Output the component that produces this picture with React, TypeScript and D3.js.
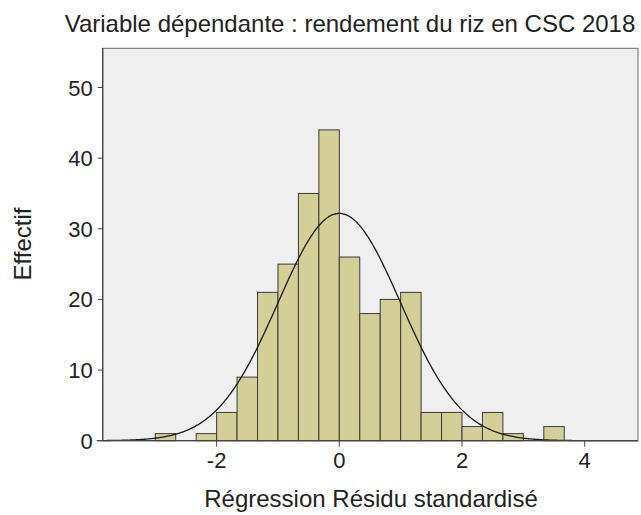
import { useEffect, useRef } from 'react';
import * as d3 from 'd3';

// histogram bins (lower edge, in standardized residual units) and counts
const binStarts = [-3, -2.6667, -2.3333, -2, -1.6667, -1.3333, -1, -0.6667, -0.3333, 0, 0.3333, 0.6667, 1, 1.3333, 1.6667, 2, 2.3333, 2.6667, 3, 3.3333];
const counts = [1, 0, 1, 4, 9, 21, 25, 35, 44, 26, 18, 20, 21, 4, 4, 2, 4, 1, 0, 2];
const binWidth = 1 / 3;

// fitted normal curve parameters
const curveMean = 0;
const curveSd = 1.0;

const xTicks = [-2, 0, 2, 4];
const yTicks = [0, 10, 20, 30, 40, 50];

const title = 'Variable dépendante : rendement du riz en CSC 2018';
const xLabel = 'Régression Résidu standardisé';
const yLabel = 'Effectif';

const W = 641;
const H = 515;
const font = '"Liberation Sans", Arial, sans-serif';

export default function App() {
  const svgRef = useRef<SVGSVGElement>(null);

  useEffect(() => {
    if (!svgRef.current) return;
    const svg = d3.select(svgRef.current);
    svg.selectAll('*').remove();

    const left = 102.7, right = 638, top = 48.3, bottom = 440.7;

    const x = d3.scaleLinear().domain([-3.857, 4.869]).range([left, right]);
    const y = d3.scaleLinear().domain([0, 55.55]).range([bottom, top]);

    // plot background
    svg.append('rect')
      .attr('x', left)
      .attr('y', top)
      .attr('width', right - left)
      .attr('height', bottom - top)
      .attr('fill', '#efefef')
      .attr('stroke', '#6b6b6b')
      .attr('stroke-width', 1);

    // bars
    svg.append('g')
      .selectAll('rect')
      .data(binStarts.map((s, i) => ({ s, c: counts[i] })).filter(d => d.c > 0))
      .join('rect')
      .attr('x', d => x(d.s))
      .attr('y', d => y(d.c))
      .attr('width', d => x(d.s + binWidth) - x(d.s))
      .attr('height', d => y(0) - y(d.c))
      .attr('fill', '#d4cf97')
      .attr('stroke', '#3a3a3a')
      .attr('stroke-width', 1);

    // normal curve
    const total = d3.sum(counts);
    const dens = (v: number) =>
      total * binWidth * Math.exp(-0.5 * ((v - curveMean) / curveSd) ** 2) / (curveSd * Math.sqrt(2 * Math.PI));
    const xs = d3.range(-3.857, 4.869, 0.02);
    const line = d3.line<number>().x(v => x(v)).y(v => y(dens(v))).curve(d3.curveBasis);
    svg.append('path')
      .attr('d', line(xs))
      .attr('fill', 'none')
      .attr('stroke', '#1a1a1a')
      .attr('stroke-width', 1.3);

    // axes lines
    svg.append('line')
      .attr('x1', left).attr('x2', left).attr('y1', top).attr('y2', bottom)
      .attr('stroke', '#444').attr('stroke-width', 1.3);
    svg.append('line')
      .attr('x1', left - 6).attr('x2', right).attr('y1', bottom).attr('y2', bottom)
      .attr('stroke', '#444').attr('stroke-width', 1.3);

    // y ticks
    const yt = svg.append('g');
    yTicks.forEach(t => {
      yt.append('line')
        .attr('x1', left - 5).attr('x2', left)
        .attr('y1', y(t)).attr('y2', y(t))
        .attr('stroke', '#444');
      yt.append('text')
        .attr('x', left - 10)
        .attr('y', y(t) + 8)
        .attr('text-anchor', 'end')
        .attr('font-family', font)
        .attr('font-size', 22)
        .attr('fill', '#222')
        .text(t);
    });

    // x ticks
    const xt = svg.append('g');
    xTicks.forEach(t => {
      xt.append('line')
        .attr('x1', x(t)).attr('x2', x(t))
        .attr('y1', bottom).attr('y2', bottom + 6)
        .attr('stroke', '#444');
      xt.append('text')
        .attr('x', x(t))
        .attr('y', 468)
        .attr('text-anchor', 'middle')
        .attr('font-family', font)
        .attr('font-size', 22)
        .attr('fill', '#222')
        .text(t);
    });

    // titles
    svg.append('text')
      .attr('x', 350)
      .attr('y', 32)
      .attr('text-anchor', 'middle')
      .attr('font-family', font)
      .attr('font-size', 24)
      .attr('fill', '#222')
      .text(title);

    svg.append('text')
      .attr('x', 371)
      .attr('y', 507)
      .attr('text-anchor', 'middle')
      .attr('font-family', font)
      .attr('font-size', 24)
      .attr('fill', '#222')
      .text(xLabel);

    svg.append('text')
      .attr('transform', `translate(31, 244) rotate(-90)`)
      .attr('text-anchor', 'middle')
      .attr('font-family', font)
      .attr('font-size', 24)
      .attr('fill', '#222')
      .text(yLabel);
  }, []);

  return (
    <svg
      ref={svgRef}
      width={W}
      height={H}
      style={{ position: 'absolute', left: 0, top: 0, background: '#fff' }}
    />
  );
}
